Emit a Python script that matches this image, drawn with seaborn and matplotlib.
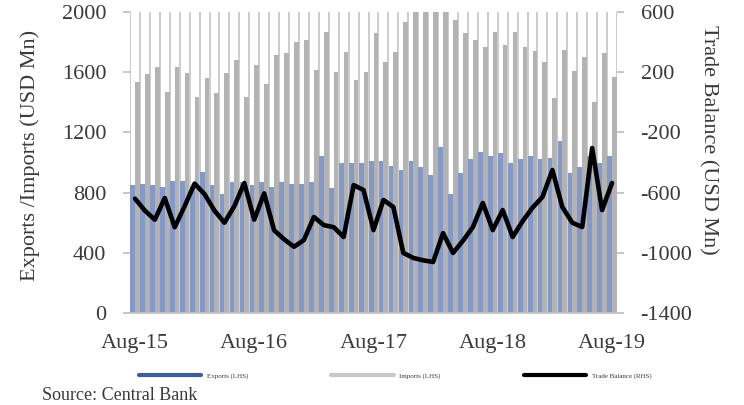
import numpy as np
import pandas as pd
import matplotlib
matplotlib.use("Agg")
import matplotlib.pyplot as plt
import seaborn as sns
from matplotlib.lines import Line2D

# ---- data (USD Mn), monthly Aug-15 .. Aug-19 ----
months = pd.date_range("2015-08-01", "2019-08-01", freq="MS").strftime("%b-%y").tolist()
exports = [850, 860, 850, 840, 880, 880, 840, 940, 850, 790, 870, 870,
           850, 870, 840, 870, 860, 860, 870, 1040, 830, 1000, 1000, 1000,
           1010, 1010, 980, 950, 1010, 970, 920, 1100, 790, 930, 1020, 1070,
           1040, 1060, 1000, 1020, 1040, 1020, 1030, 1140, 930, 970, 1040, 1000,
           1040]
imports = [1535, 1590, 1635, 1470, 1635, 1595, 1435, 1560, 1460, 1595, 1680, 1435,
           1650, 1520, 1715, 1730, 1800, 1815, 1615, 1865, 1600, 1735, 1550, 1600,
           1860, 1670, 1735, 1935, 2040, 2030, 2010, 2000, 1950, 1860, 1815, 1765,
           1865, 1780, 1870, 1767, 1740, 1665, 1430, 1745, 1610, 1700, 1400, 1730,
           1570]
balance = [-640, -720, -780, -636, -830, -690, -540, -610, -720, -800, -690, -536,
           -780, -605, -850, -910, -960, -915, -762, -816, -830, -895, -550, -583,
           -849, -649, -696, -1001, -1034, -1050, -1061, -869, -1001, -920, -829, -669,
           -849, -716, -895, -790, -700, -629, -450, -696, -800, -829, -304, -716,
           -536]
tick_labels = ["Aug-15", "Aug-16", "Aug-17", "Aug-18", "Aug-19"]
series_names = ["Exports (LHS)", "Imports (LHS)", "Trade Balance (RHS)"]

BLUE = "#8599c8"
GREY = "#b3b3b3"
TXT = "#3a3a3a"

sns.set_theme(style="white")
plt.rcParams["font.family"] = ["Liberation Serif", "DejaVu Serif"]
plt.rcParams["axes.unicode_minus"] = False

df = pd.DataFrame({
    "month": months * 2,
    "series": [series_names[0]] * len(months) + [series_names[1]] * len(months),
    "value": exports + imports,
})

fig = plt.figure(figsize=(7.44, 4.05), dpi=100)
ax = fig.add_axes([130 / 744, 1 - 313 / 405, 487 / 744, 301 / 405])

sns.barplot(data=df, x="month", y="value", hue="series", order=months,
            palette=[BLUE, GREY], width=0.95, saturation=1, dodge=True,
            legend=False, linewidth=0, edgecolor="none", ax=ax)
n = len(months)
ax.set_xlim(-0.5, n - 0.5)
ax.set_ylim(0, 2000)

# vertical gridlines at month boundaries
ax.set_xticks(np.arange(-0.5, n, 1), minor=True)
ax.grid(False)
ax.grid(which="minor", axis="x", color="#c4c4c4", lw=1.2)
ax.set_axisbelow(True)

ax.set_xticks([0, 12, 24, 36, 48])
ax.set_xticklabels(tick_labels)
ax.tick_params(axis="x", which="both", length=0, labelsize=16, labelcolor=TXT, pad=15)
ax.set_yticks(range(0, 2001, 400))
ax.tick_params(axis="y", left=True, length=5, color="#bfbfbf", labelsize=16,
               labelcolor=TXT, pad=12)
ax.set_xlabel("")
ax.set_ylabel("Exports /Imports (USD Mn)", fontsize=16, color=TXT)
ax.yaxis.set_label_coords(-0.185, 0.525)
for s in ["top", "right", "left"]:
    ax.spines[s].set_visible(False)
ax.spines["bottom"].set_color("#c4c4c4")

ax2 = ax.twinx()
sns.lineplot(x=np.arange(n), y=balance, color="black", lw=3.3, ax=ax2)
ax2.set_ylim(-1400, 600)
ax2.set_yticks(range(-1400, 601, 400))
ax2.tick_params(axis="y", right=True, length=5, color="#bfbfbf", labelsize=16,
                labelcolor=TXT, pad=12)
ax2.set_ylabel("Trade Balance (USD Mn)", fontsize=16, color=TXT, rotation=270)
ax2.yaxis.set_label_coords(1.207, 0.575)
for s in ["top", "right", "left", "bottom"]:
    ax2.spines[s].set_visible(False)

handles = [Line2D([], [], color="#3e5d9a", lw=3),
           Line2D([], [], color="#c8c8c8", lw=3),
           Line2D([], [], color="black", lw=3)]
fig.legend(handles, series_names, loc="center", bbox_to_anchor=(0.531, 1 - 376 / 405),
           ncol=3, fontsize=5, handlelength=9, columnspacing=12, frameon=False,
           labelcolor=TXT)

fig.text(42 / 744, 5 / 405, "Source: Central Bank", fontsize=13, color=TXT,
         va="baseline", ha="left")

fig.savefig("out.png", dpi=100)
